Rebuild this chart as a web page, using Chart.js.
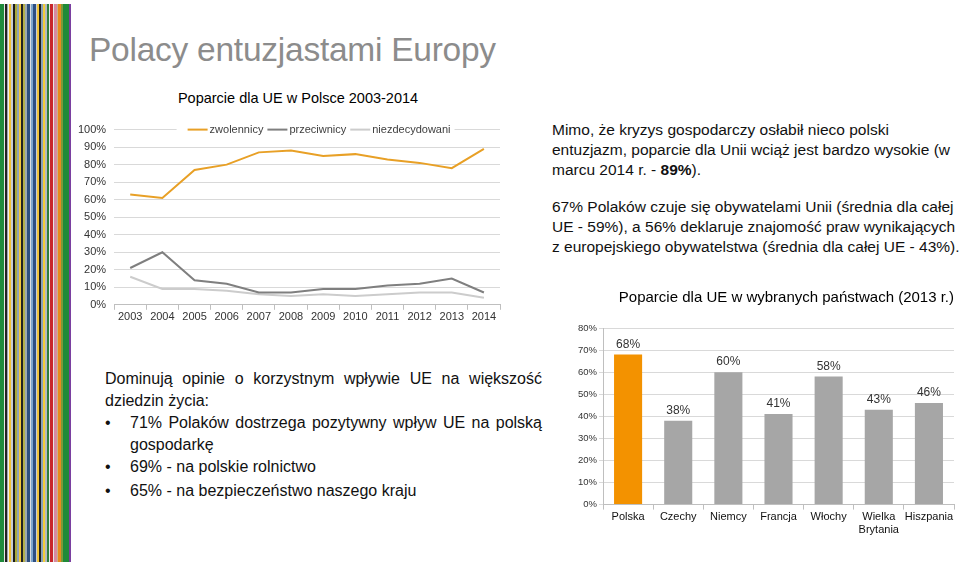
<!DOCTYPE html>
<html>
<head>
<meta charset="utf-8">
<script src="https://cdn.jsdelivr.net/npm/chart.js@4.4.1/dist/chart.umd.min.js"></script>
<style>
  body { margin: 0; width: 960px; height: 567px; position: relative; background: #fff; overflow: hidden;
         font-family: "Liberation Sans", Arial, sans-serif; color: #111; }
  .stripes { position: absolute; left: 0; top: 4px; width: 71px; height: 558px;
    background: linear-gradient(to right,
      #1e8b3c 0 4px, #e6e6e6 4px 5px, #222 5px 7px, #9aa4ad 7px 8px, #eee 8px 9px, #f2c230 9px 11px,
      #c7ccd2 11px 13px, #1b1b1b 13px 15px, #a8a83a 15px 17px, #8fa3b5 17px 19px, #f4c73a 19px 21px,
      #222 21px 23px, #b5b04a 23px 25px, #9ea8b1 25px 27px, #2f4f7f 27px 30px, #d9dde2 30px 31px,
      #7fa6cc 31px 33px, #2e4f84 33px 36px, #c9ced4 36px 37px, #f0c43a 37px 39px, #1c1c1c 39px 41px,
      #8aa1b8 41px 43px, #f4cb38 43px 45px, #b6b9bd 45px 47px, #2d7d3a 47px 49px, #e9e9e9 49px 50px,
      #c8262b 50px 53px, #e6e6e6 53px 54px, #d88aa0 54px 57px, #c9b28a 57px 58px, #e98a1c 58px 61px,
      #7a9a3a 61px 63px, #1f8a38 63px 69px, #7a3fa0 69px 71px);
  }
  h1 { position: absolute; left: 89px; top: 31px; margin: 0; font-weight: normal; font-size: 33.5px;
       color: #8c8c8c; white-space: nowrap; letter-spacing: -0.25px; }
  .txt { position: absolute; white-space: nowrap; }
  #lineTitle { left: 298px; top: 90px; transform: translateX(-50%); font-size: 14.5px; color: #000; }
  #right { left: 552px; top: 120px; font-size: 15.5px; line-height: 20px; }
  #right p { margin: 0 0 17px 0; }
  #left { left: 105px; top: 368px; width: 437px; font-size: 16px; line-height: 22px; white-space: normal; }
  #left .j { display: block; text-align: justify; text-align-last: justify; }
  #left .b { position: relative; padding-left: 25px; }
  #left .b::before { content: "\2022"; position: absolute; left: 0; top: 0; }
  #left .last { margin-top: 2px; }
  canvas { position: absolute; }
  #lineChart { left: 70px; top: 115px; }
  #barChart { left: 576px; top: 286px; }
</style>
</head>
<body>
<div class="stripes"></div>
<h1>Polacy entuzjastami Europy</h1>

<div class="txt" id="lineTitle">Poparcie dla UE w Polsce 2003-2014</div>

<div class="txt" id="right">
  <p>Mimo, że kryzys gospodarczy osłabił nieco polski<br>
  entuzjazm, poparcie dla Unii wciąż jest bardzo wysokie (w<br>
  marcu 2014 r. - <b>89%</b>).</p>
  <p>67% Polaków czuje się obywatelami Unii (średnia dla całej<br>
  UE - 59%), a 56% deklaruje znajomość praw wynikających<br>
  z europejskiego obywatelstwa (średnia dla całej UE - 43%).</p>
</div>

<div class="txt" id="left">
  <span class="j">Dominują opinie o korzystnym wpływie UE na większość</span>
  <div>dziedzin życia:</div>
  <div class="b"><span class="j">71% Polaków dostrzega pozytywny wpływ UE na polską</span>gospodarkę</div>
  <div class="b">69% - na polskie rolnictwo</div>
  <div class="b last">65% - na bezpieczeństwo naszego kraju</div>
</div>

<canvas id="lineChart" width="456" height="210"></canvas>
<canvas id="barChart" width="384" height="252"></canvas>

<script>
const years = ['2003', '2004', '2005', '2006', '2007', '2008', '2009', '2010', '2011', '2012', '2013', '2014'];
const zwolennicy = [63, 61, 77, 80, 87, 88, 85, 86, 83, 81, 78, 89];
const przeciwnicy = [21, 30, 14, 12, 7, 7, 9, 9, 11, 12, 15, 7];
const niezdecydowani = [16, 9, 9, 8, 6, 5, 6, 5, 6, 7, 7, 4];

const countries = ['Polska', 'Czechy', 'Niemcy', 'Francja', 'Włochy', ['Wielka', 'Brytania'], 'Hiszpania'];
const poparcie2013 = [68, 38, 60, 41, 58, 43, 46];

const FONT = '"Liberation Sans", Arial, sans-serif';
Chart.defaults.font.family = FONT;
Chart.defaults.color = '#333';

// legenda wewnątrz wykresu, na linii 100%, z białym tłem
const lineLegend = {
  id: 'lineLegend',
  afterDraw(chart) {
    const ctx = chart.ctx;
    const area = chart.chartArea;
    const y = chart.scales.y.getPixelForValue(100);
    ctx.save();
    ctx.font = '11px ' + FONT;
    const items = chart.data.datasets.map(ds => ({ text: ds.label, color: ds.borderColor, w: ctx.measureText(ds.label).width }));
    const lineLen = 20, gap = 2, itemGap = 4;
    const total = items.reduce((s, it) => s + lineLen + gap + it.w, 0) + itemGap * (items.length - 1);
    let x = (area.left + area.right) / 2 + 12 - total / 2;
    ctx.fillStyle = '#fff';
    ctx.fillRect(x - 11, y - 8, total + 15, 16);
    ctx.textBaseline = 'middle';
    items.forEach(it => {
      ctx.strokeStyle = it.color;
      ctx.lineWidth = 2;
      ctx.beginPath();
      ctx.moveTo(x, y);
      ctx.lineTo(x + lineLen, y);
      ctx.stroke();
      x += lineLen + gap;
      ctx.fillStyle = '#404040';
      ctx.fillText(it.text, x, y);
      x += it.w + itemGap;
    });
    ctx.restore();
  }
};

new Chart(document.getElementById('lineChart'), {
  type: 'line',
  data: {
    labels: years,
    datasets: [
      { label: 'zwolennicy', data: zwolennicy, borderColor: '#e8a026', borderWidth: 2 },
      { label: 'przeciwnicy', data: przeciwnicy, borderColor: '#7f7f7f', borderWidth: 2 },
      { label: 'niezdecydowani', data: niezdecydowani, borderColor: '#cccccc', borderWidth: 2 }
    ]
  },
  options: {
    responsive: false,
    animation: false,
    elements: { point: { radius: 0 }, line: { tension: 0 } },
    layout: { padding: { left: 0, right: 26, top: 8, bottom: 0 } },
    plugins: {
      legend: { display: false },
      tooltip: { enabled: false }
    },
    scales: {
      x: {
        offset: true,
        grid: { offset: true, drawOnChartArea: false, drawTicks: true, tickLength: 5, color: '#bfbfbf' },
        border: { color: '#bfbfbf' },
        ticks: { font: { size: 11 }, color: '#333', padding: 1, maxRotation: 0 }
      },
      y: {
        min: 0,
        max: 100,
        grid: { color: '#d9d9d9', drawTicks: false },
        border: { display: false },
        ticks: { stepSize: 10, callback: v => v + '%', font: { size: 11 }, color: '#333', padding: 8 }
      }
    }
  },
  plugins: [lineLegend]
});

// etykiety wartości nad słupkami
const barLabels = {
  id: 'barLabels',
  afterDatasetsDraw(chart) {
    const ctx = chart.ctx;
    const meta = chart.getDatasetMeta(0);
    ctx.save();
    ctx.font = '12px ' + FONT;
    ctx.fillStyle = '#333';
    ctx.textAlign = 'center';
    ctx.textBaseline = 'bottom';
    meta.data.forEach((bar, i) => {
      ctx.fillText(chart.data.datasets[0].data[i] + '%', bar.x, bar.y - 4);
    });
    ctx.restore();
  }
};

new Chart(document.getElementById('barChart'), {
  type: 'bar',
  data: {
    labels: countries,
    datasets: [{
      data: poparcie2013,
      backgroundColor: poparcie2013.map((v, i) => i === 0 ? '#f39200' : '#a6a6a6'),
      barPercentage: 0.56,
      categoryPercentage: 1
    }]
  },
  options: {
    responsive: false,
    animation: false,
    layout: { padding: { left: 0, right: 6, top: 0, bottom: 0 } },
    plugins: {
      legend: { display: false },
      tooltip: { enabled: false },
      title: {
        display: true,
        text: 'Poparcie dla UE w wybranych państwach (2013 r.)',
        align: 'end',
        color: '#000',
        font: { size: 15, weight: 'normal' },
        padding: { top: 3, bottom: 21 }
      }
    },
    scales: {
      x: {
        grid: { offset: true, drawOnChartArea: false, drawTicks: true, tickLength: 5, color: '#bfbfbf' },
        border: { color: '#bfbfbf' },
        ticks: { font: { size: 11 }, color: '#111', padding: 1, maxRotation: 0, autoSkip: false }
      },
      y: {
        min: 0,
        max: 80,
        grid: { color: '#d9d9d9', tickLength: 4 },
        border: { color: '#bfbfbf' },
        ticks: { stepSize: 10, callback: v => v + '%', font: { size: 9.5 }, color: '#333', padding: 2 }
      }
    }
  },
  plugins: [barLabels]
});
</script>
</body>
</html>
